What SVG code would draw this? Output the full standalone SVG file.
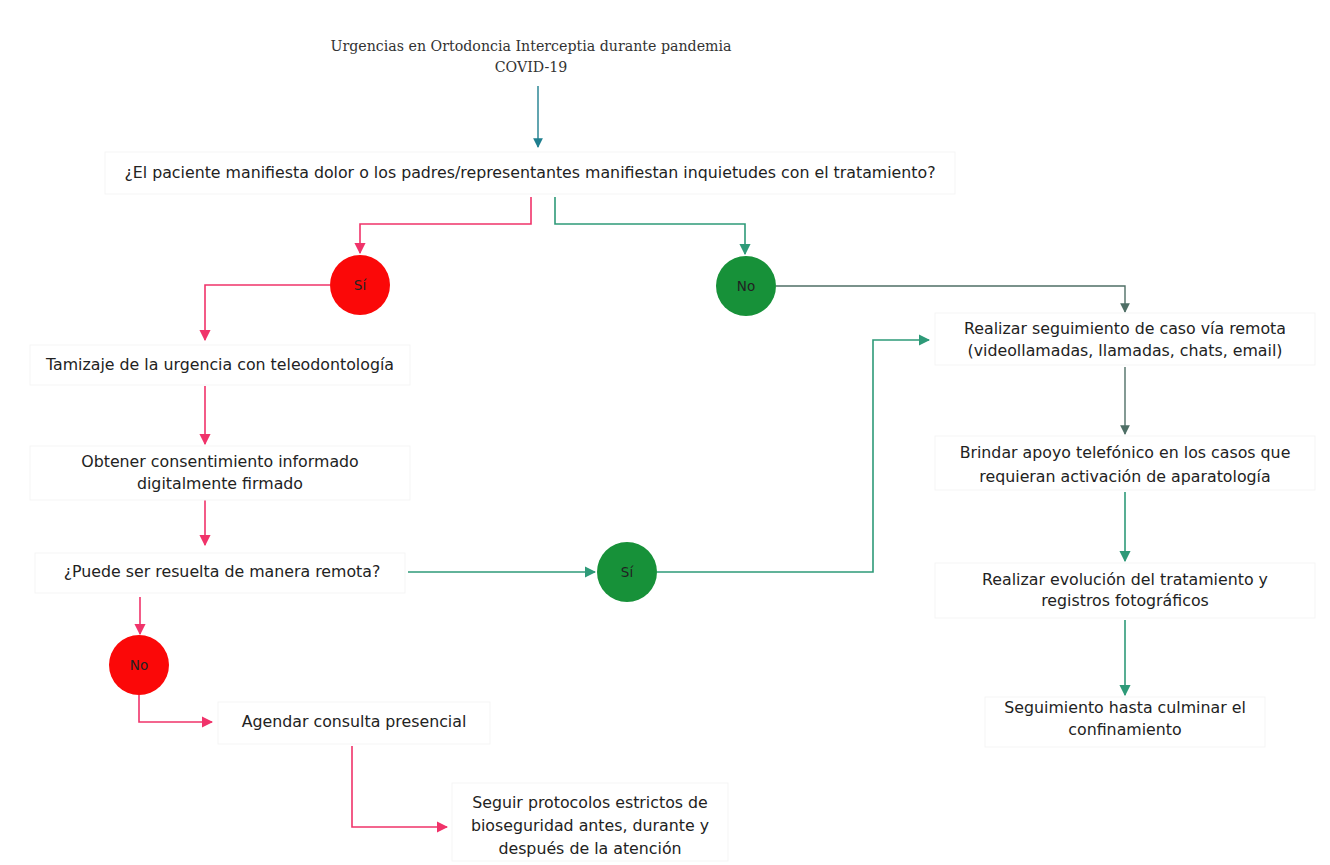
<svg xmlns="http://www.w3.org/2000/svg" width="1330" height="865" viewBox="0 0 1330 865">
<style>
.t{font-family:"DejaVu Sans","Liberation Sans",Arial,sans-serif;font-size:15.8px;fill:#222;text-anchor:middle}
.ttl{font-family:"DejaVu Serif","Liberation Serif",serif;font-size:14.2px;fill:#333;text-anchor:middle}
.c{font-family:"DejaVu Sans","Liberation Sans",Arial,sans-serif;font-size:13.5px;fill:#222;text-anchor:middle}
.red{fill:none;stroke:#f0336a;stroke-width:1.6}
.grn{fill:none;stroke:#2e9a78;stroke-width:1.6}
.gry{fill:none;stroke:#4f6f66;stroke-width:1.4}
.box{fill:#fff;stroke:#f5f5f5;stroke-width:1}
</style>
<defs>
<marker id="ar" viewBox="0 0 10 10" refX="9" refY="5" markerWidth="7" markerHeight="7" orient="auto"><path d="M0,0 L10,5 L0,10 z" fill="#f0336a"/></marker>
<marker id="ag" viewBox="0 0 10 10" refX="9" refY="5" markerWidth="7" markerHeight="7" orient="auto"><path d="M0,0 L10,5 L0,10 z" fill="#2e9a78"/></marker>
<marker id="ay" viewBox="0 0 10 10" refX="9" refY="5" markerWidth="7" markerHeight="7" orient="auto"><path d="M0,0 L10,5 L0,10 z" fill="#4f6f66"/></marker>
<marker id="at" viewBox="0 0 10 10" refX="9" refY="5" markerWidth="7" markerHeight="7" orient="auto"><path d="M0,0 L10,5 L0,10 z" fill="#1f7f8f"/></marker>
</defs>
<rect width="1330" height="865" fill="#fff"/>
<g id="connectors">
<path d="M538,86 V147" style="fill:none;stroke:#1f7f8f;stroke-width:1.4" marker-end="url(#at)"/>
<path class="red" d="M531,197 V224 H360 V253" marker-end="url(#ar)"/>
<path class="grn" d="M555,197 V224 H745 V254" marker-end="url(#ag)"/>
<path class="red" d="M330,285 H205 V340" marker-end="url(#ar)"/>
<path class="gry" d="M776,286 H1125 V312" marker-end="url(#ay)"/>
<path class="red" d="M205,386 V444" marker-end="url(#ar)"/>
<path class="red" d="M205,500 V545" marker-end="url(#ar)"/>
<path class="grn" d="M408,572 H595" marker-end="url(#ag)"/>
<path class="grn" d="M657,572 H873 V340 H929" marker-end="url(#ag)"/>
<path class="red" d="M140,597 V634" marker-end="url(#ar)"/>
<path class="red" d="M139,695 V722 H212" marker-end="url(#ar)"/>
<path class="red" d="M352,746 V827 H447" marker-end="url(#ar)"/>
<path class="gry" d="M1125,367 V434" marker-end="url(#ay)"/>
<path class="grn" d="M1125,492 V561" marker-end="url(#ag)"/>
<path class="grn" d="M1125,620 V695" marker-end="url(#ag)"/>
</g>
<g id="title"><text class="ttl" x="531" y="51">Urgencias en Ortodoncia Interceptia durante pandemia</text><text class="ttl" x="531" y="72">COVID-19</text></g>
<g id="q1"><rect class="box" x="105" y="152" width="850" height="42"/><text class="t" x="530" y="178">¿El paciente manifiesta dolor o los padres/representantes manifiestan inquietudes con el tratamiento?</text></g>
<g id="si1"><circle cx="360" cy="285" r="30" fill="#fb0808"/><text class="c" x="360" y="290">Sí</text></g>
<g id="no1"><circle cx="746" cy="286" r="30" fill="#179139"/><text class="c" x="746" y="291">No</text></g>
<g id="tamizaje"><rect class="box" x="30" y="345" width="380" height="40"/><text class="t" x="220" y="370">Tamizaje de la urgencia con teleodontología</text></g>
<g id="consent"><rect class="box" x="30" y="446" width="380" height="54"/><text class="t" x="220" y="467">Obtener consentimiento informado</text><text class="t" x="220" y="489">digitalmente firmado</text></g>
<g id="q2"><rect class="box" x="35" y="553" width="370" height="40"/><text class="t" x="222" y="577">¿Puede ser resuelta de manera remota?</text></g>
<g id="si2"><circle cx="627" cy="572" r="30" fill="#179139"/><text class="c" x="627" y="577">Sí</text></g>
<g id="no2"><circle cx="139" cy="665" r="30" fill="#fb0808"/><text class="c" x="139" y="670">No</text></g>
<g id="agendar"><rect class="box" x="218" y="702" width="272" height="42"/><text class="t" x="354" y="727">Agendar consulta presencial</text></g>
<g id="seguir"><rect class="box" x="452" y="783" width="276" height="78"/><text class="t" x="590" y="808">Seguir protocolos estrictos de</text><text class="t" x="590" y="831">bioseguridad antes, durante y</text><text class="t" x="590" y="854">después de la atención</text></g>
<g id="remoto"><rect class="box" x="935" y="313" width="380" height="52"/><text class="t" x="1125" y="334">Realizar seguimiento de caso vía remota</text><text class="t" x="1125" y="356">(videollamadas, llamadas, chats, email)</text></g>
<g id="apoyo"><rect class="box" x="935" y="436" width="380" height="54"/><text class="t" x="1125" y="458">Brindar apoyo telefónico en los casos que</text><text class="t" x="1125" y="482">requieran activación de aparatología</text></g>
<g id="evolucion"><rect class="box" x="935" y="563" width="380" height="55"/><text class="t" x="1125" y="585">Realizar evolución del tratamiento y</text><text class="t" x="1125" y="606">registros fotográficos</text></g>
<g id="fin"><rect class="box" x="985" y="697" width="280" height="50"/><text class="t" x="1125" y="713">Seguimiento hasta culminar el</text><text class="t" x="1125" y="735">confinamiento</text></g>
</svg>
